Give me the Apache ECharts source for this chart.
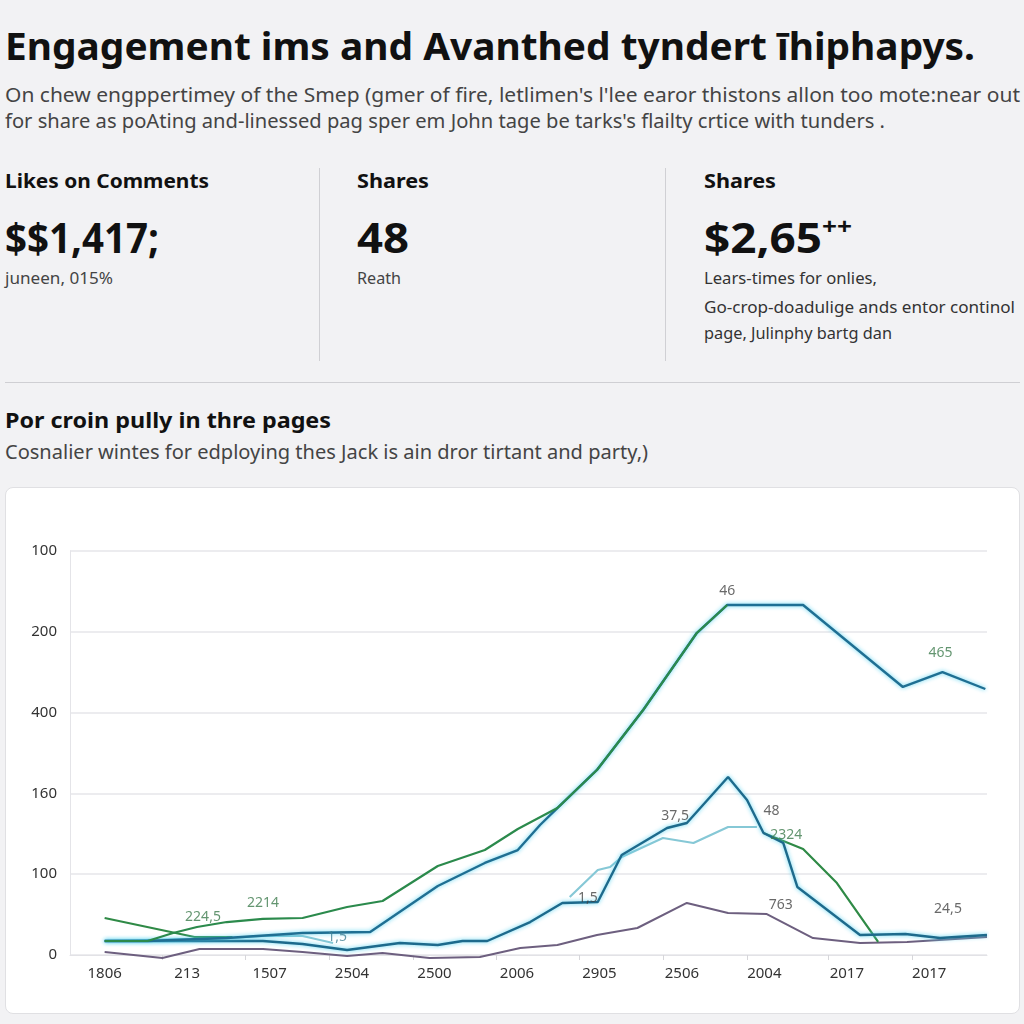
<!DOCTYPE html>
<html>
<head>
<meta charset="utf-8">
<script src="https://cdn.jsdelivr.net/npm/echarts@6/dist/echarts.min.js"></script>
<style>
  html, body { margin:0; padding:0; width:1024px; height:1024px; background:#f2f2f4; overflow:hidden; font-family:"Noto Sans", "Open Sans", sans-serif; }
  .t { position:absolute; white-space:nowrap; line-height:1; transform-origin:left center; }
  .title { font-weight:700; font-size:37px; color:#111; }
  .sub { font-size:20px; color:#444; }
  .kl { font-weight:700; font-size:20px; color:#111; }
  .kv { font-weight:700; font-size:42px; color:#111; }
  .ks { font-size:16px; color:#444; }
  .k3 { font-size:17px; color:#333; }
  .sec { font-weight:700; font-size:22px; color:#111; }
  .vline { position:absolute; width:1px; background:#d0d0d4; }
  .hline { position:absolute; height:1px; background:#cfcfd3; }
  #card { position:absolute; left:5px; top:487px; width:1015px; height:527px; background:#fff; border:1px solid #e0e0e3; border-radius:8px; box-sizing:border-box; }
  #chart { position:absolute; left:0; top:0; width:1013px; height:525px; }
</style>
</head>
<body>
<div class="t title" data-w="970" style="left:5px; top:27px;">Engagement ims and Avanthed tyndert īhiphapys.</div>
<div class="t sub" data-w="1015" style="left:5px; top:85px;">On chew engppertimey of the Smep (gmer of fire, letlimen's l'lee earor thistons allon too mote:near out</div>
<div class="t sub" data-w="880" style="left:5px; top:111px;">for share as poAting and-linessed pag sper em John tage be tarks's flailty crtice with tunders .</div>

<div class="t kl" data-w="204" style="left:5px; top:171px;">Likes on Comments</div>
<div class="t kv" data-w="154" style="left:5px; top:216px;">$$1,417;</div>
<div class="t ks" data-w="108" style="left:5px; top:270px;">juneen, 015%</div>

<div class="vline" style="left:319px; top:168px; height:193px;"></div>

<div class="t kl" data-w="72" style="left:357px; top:171px;">Shares</div>
<div class="t kv" data-w="52" style="left:357px; top:216px;">48</div>
<div class="t ks" data-w="44" style="left:357px; top:270px;">Reath</div>

<div class="vline" style="left:665px; top:168px; height:193px;"></div>

<div class="t kl" data-w="72" style="left:704px; top:171px;">Shares</div>
<div class="t kv" data-w="148" style="left:704px; top:216px;">$2,65<sup style="font-size:24px; vertical-align:top; position:relative; top:-2px;">++</sup></div>
<div class="t k3" data-w="173" style="left:704px; top:269px;">Lears-times for onlies,</div>
<div class="t k3" data-w="311" style="left:704px; top:298px;">Go-crop-doadulige ands entor continol</div>
<div class="t k3" data-w="188" style="left:704px; top:324px;">page, Julinphy bartg dan</div>

<div class="hline" style="left:5px; top:382px; width:1015px;"></div>

<div class="t sec" data-w="326" style="left:5px; top:408px;">Por croin pully in thre pages</div>
<div class="t sub" data-w="643" style="left:5px; top:442px;">Cosnalier wintes for edploying thes Jack is ain dror tirtant and party,)</div>

<div id="card"><div id="chart"></div></div>

<script>
// ---- data (x = position along the category axis, y = value) ----
const xLabels = ['1806','213','1507','2504','2500','2006','2905','2506','2004','2017','2017'];
const yLabels = ['0','100','160','400','200','100'];

const blueMain = [[0,17.3],[0.52,17.3],[1.48,21.0],[2.40,27.2],[3.22,28.5],[4.04,85.4],[4.61,113.9],[5.01,129.9],[5.28,160.9],[5.49,181.9],[5.97,229.0],[6.53,303.2],[7.18,398.5],[7.55,433.2],[8.47,433.2],[9.68,331.7],[10.16,350.2],[10.68,329.2]];
const greenMain = [[0,17.3],[0.52,17.3],[0.83,27.2],[1.12,34.7],[1.48,40.8],[1.92,44.6],[2.40,45.8],[2.94,59.4],[3.37,66.8],[4.04,110.1],[4.61,129.9],[5.01,155.9],[5.49,181.9],[5.97,229.0],[6.53,303.2],[7.18,398.5],[7.55,433.2]];
const bluePeak = [[0,17.3],[1.92,17.3],[2.40,13.6],[2.94,6.2],[3.58,14.9],[4.04,12.4],[4.34,17.3],[4.64,17.3],[5.16,40.8],[5.55,64.4],[5.98,65.6],[6.27,123.8],[6.82,157.2],[7.06,163.4],[7.56,220.3],[7.79,191.8],[7.99,151.0],[8.23,138.6],[8.40,84.2],[9.16,24.8],[9.71,26.0],[10.13,21.0],[10.70,24.8]];
const lightCyan = [[0,17.3],[1.48,21.0],[1.92,23.5],[2.40,23.5],[2.77,14.9],[null,null],[5.64,71.8],[5.98,105.2],[6.13,108.9],[6.27,121.3],[6.77,144.8],[7.14,138.6],[7.56,158.4],[7.91,158.4]];
const greenSecond = [[0,45.8],[1.09,22.3],[1.55,22.3],[null,null],[7.99,151.0],[8.23,141.1],[8.47,131.2],[8.88,89.1],[9.38,16.1]];
const purpleLine = [[0,3.7],[0.70,-3.7],[1.15,7.4],[1.92,7.4],[2.40,3.7],[2.94,-1.2],[3.37,2.5],[3.94,-3.7],[4.55,-2.5],[5.04,8.7],[5.49,12.4],[5.97,24.8],[6.46,33.4],[7.06,64.4],[7.56,52.0],[8.03,50.7],[8.59,21.0],[9.16,14.9],[9.73,16.1],[10.70,22.3]];

// annotation texts, attached to a point of a series
const annotations = [
  { series:'blueMain', index:13, text:'46' },
  { series:'blueMain', index:16, text:'465' },
  { series:'bluePeak', index:12, text:'37,5' },
  { series:'bluePeak', index:16, text:'48' },
  { series:'bluePeak', index:10, text:'1,5' },
  { series:'bluePeak', index:21, text:'24,5' },
  { series:'greenSecond', index:5, text:'2324' },
  { series:'purpleLine', index:15, text:'763' },
  { series:'greenMain', index:3, text:'224,5' },
  { series:'greenMain', index:5, text:'2214' },
  { series:'lightCyan', index:4, text:'1,5' }
];

// ---- styling ----
const COLORS = { blueMain:'#1f6f93', greenMain:'#2b8a4c', bluePeak:'#1d6a8c', lightCyan:'#86c8d6', greenSecond:'#2f8a46', purpleLine:'#6d5f7f' };
const labelStyle = {
  'blueMain:46':    { color:'#444', offset:[0,-2] },
  'blueMain:465':   { color:'#3c7a4c', offset:[-2,-8] },
  'bluePeak:37,5':  { color:'#444', offset:[8,0] },
  'bluePeak:48':    { color:'#444', offset:[8,-10] },
  'bluePeak:1,5':   { color:'#444', offset:[-10,8] },
  'bluePeak:24,5':  { color:'#444', offset:[8,-18] },
  'greenSecond:2324': { color:'#3c7a4c', offset:[3,6] },
  'purpleLine:763': { color:'#444', offset:[14,2] },
  'greenMain:224,5':{ color:'#3c7a4c', offset:[6,2] },
  'greenMain:2214': { color:'#3c7a4c', offset:[0,-4] },
  'lightCyan:1,5':  { color:'#3f7f93', offset:[4,6] }
};
const seriesData = { blueMain, greenMain, bluePeak, lightCyan, greenSecond, purpleLine };

// annotation points built from the series data
const annotationPoints = annotations.map(a => {
  const p = seriesData[a.series][a.index];
  const st = labelStyle[a.series + ':' + a.text] || { color:'#444', offset:[0,0] };
  return {
    value: p,
    label: { show:true, position:[0.5 + st.offset[0], -4 + st.offset[1]], align:'center', verticalAlign:'bottom',
             formatter: a.text, color: st.color, fontSize:14, fontFamily:'Noto Sans' }
  };
});

function lineSeries(name, width, glow, z) {
  return {
    type:'line', name, data: seriesData[name], showSymbol:false, symbol:'none', clip:false, z,
    connectNulls:false, animation:false,
    lineStyle: { color: COLORS[name], width, shadowColor: glow ? 'rgba(80,210,240,0.95)' : 'transparent', shadowBlur: glow ? 4 : 0 },
    emphasis: { disabled:true }
  };
}

const chart = echarts.init(document.getElementById('chart'), null, { renderer:'canvas' });
chart.setOption({
  backgroundColor:'transparent',
  grid: { left:64, right:32, top:63, bottom:58 },
  xAxis: {
    type:'value', min:-0.42, max:10.7,
    axisLine:{ show:true, lineStyle:{ color:'#e2e2e6' } },
    axisTick:{ show:true, customValues:[0.7,1.7,2.72,3.74,4.75,5.75,6.77,7.79,8.78,9.79], length:5, lineStyle:{ color:'#d6d6da' } },
    splitLine:{ show:false },
    axisLabel:{ customValues:[0,1,2,3,4,5,6,7,8,9,10], formatter: v => xLabels[Math.round(v)], color:'#333', fontSize:15, fontFamily:'Noto Sans', margin:11 }
  },
  yAxis: {
    type:'value', min:0, max:500, interval:100,
    axisLine:{ show:true, onZero:false, lineStyle:{ color:'#e4e4e8' } },
    axisTick:{ show:false },
    splitLine:{ lineStyle:{ color:'#e6e6ea', width:1.5 } },
    axisLabel:{ formatter: v => yLabels[Math.round(v/100)], color:'#333', fontSize:15, fontFamily:'Noto Sans', margin:13 }
  },
  series: [
    lineSeries('purpleLine', 2, false, 2),
    lineSeries('lightCyan', 2.2, false, 3),
    lineSeries('greenSecond', 2.2, false, 4),
    lineSeries('bluePeak', 2.4, true, 5),
    lineSeries('blueMain', 2.4, true, 6),
    lineSeries('greenMain', 2.2, false, 7),
    {
      type:'scatter', name:'annotations', data: annotationPoints, symbol:'circle', symbolSize:1, z:10,
      itemStyle:{ color:'rgba(0,0,0,0)' }, clip:false, animation:false, silent:true,
      emphasis:{ disabled:true }
    }
  ]
});

// fit text widths to the layout
document.querySelectorAll('[data-w]').forEach(el => {
  const target = parseFloat(el.getAttribute('data-w'));
  const w = el.getBoundingClientRect().width;
  if (w > 0) el.style.transform = 'scaleX(' + (target / w).toFixed(4) + ')';
});
</script>
</body>
</html>
